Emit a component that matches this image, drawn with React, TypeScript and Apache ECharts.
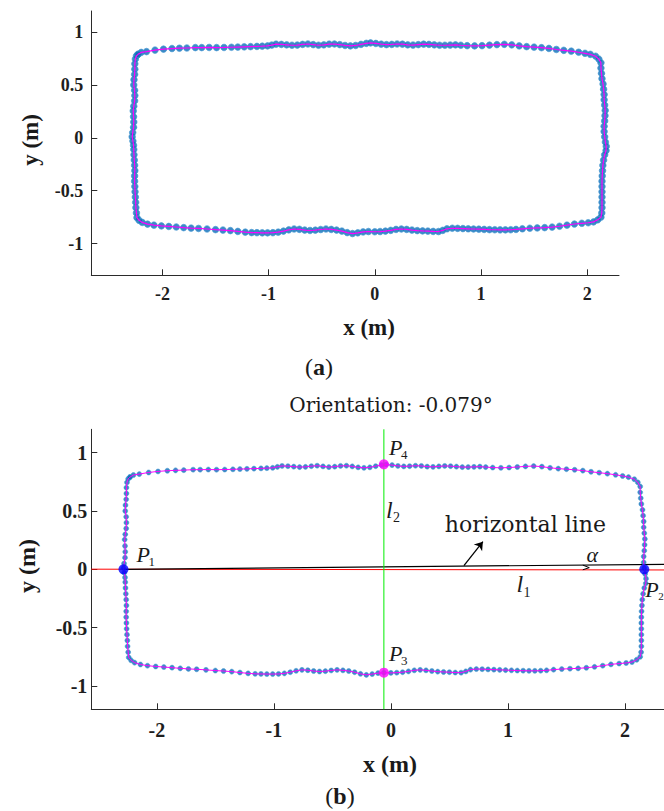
import React, { useEffect, useRef } from "react";
import * as echarts from "echarts";

// ---- trajectory (m), clockwise from the top-left corner ----
const topEdge: number[][] = [
  [-2.23, 0.79], [-2.2, 0.808], [-2.15, 0.816], [-2.07, 0.83], [-1.99, 0.839], [-1.91, 0.845],
  [-1.84, 0.848], [-1.77, 0.85], [-1.69, 0.854], [-1.63, 0.854], [-1.56, 0.855], [-1.49, 0.854],
  [-1.42, 0.855], [-1.35, 0.857], [-1.29, 0.859], [-1.23, 0.861], [-1.17, 0.863], [-1.11, 0.865],
  [-1.06, 0.867], [-1.01, 0.87], [-0.97, 0.878], [-0.93, 0.886], [-0.88, 0.884], [-0.83, 0.88],
  [-0.78, 0.876], [-0.73, 0.878], [-0.68, 0.884], [-0.63, 0.888], [-0.58, 0.882], [-0.53, 0.876],
  [-0.48, 0.88], [-0.43, 0.886], [-0.38, 0.888], [-0.33, 0.882], [-0.28, 0.874], [-0.23, 0.87],
  [-0.18, 0.874], [-0.13, 0.884], [-0.08, 0.894], [-0.04, 0.898], [0.01, 0.893], [0.06, 0.886],
  [0.11, 0.882], [0.16, 0.884], [0.21, 0.888], [0.26, 0.886], [0.31, 0.88], [0.36, 0.878],
  [0.41, 0.882], [0.46, 0.886], [0.51, 0.884], [0.56, 0.88], [0.61, 0.876], [0.66, 0.876],
  [0.71, 0.878], [0.76, 0.88], [0.81, 0.876], [0.87, 0.872], [0.94, 0.87], [1.01, 0.872],
  [1.08, 0.877], [1.15, 0.882], [1.22, 0.885], [1.29, 0.88], [1.36, 0.87], [1.43, 0.863],
  [1.5, 0.858], [1.57, 0.853], [1.64, 0.846], [1.71, 0.836], [1.78, 0.828], [1.85, 0.82],
  [1.92, 0.81], [1.98, 0.8], [2.03, 0.79], [2.08, 0.772], [2.11, 0.745],
];
const rightEdge: number[][] = [
  [2.13, 0.71], [2.13, 0.66], [2.135, 0.61], [2.14, 0.56], [2.15, 0.51], [2.155, 0.46],
  [2.16, 0.41], [2.16, 0.36], [2.165, 0.31], [2.17, 0.26], [2.168, 0.21], [2.165, 0.16],
  [2.16, 0.11], [2.16, 0.06], [2.165, 0.01], [2.172, -0.04], [2.18, -0.08], [2.178, -0.12],
  [2.165, -0.16], [2.155, -0.21], [2.148, -0.26], [2.145, -0.31], [2.142, -0.36], [2.14, -0.41],
  [2.14, -0.46], [2.14, -0.51], [2.14, -0.56], [2.14, -0.61], [2.14, -0.66], [2.138, -0.71],
  [2.13, -0.75],
];
const bottomEdge: number[][] = [
  [2.1, -0.775], [2.06, -0.795], [2.01, -0.803], [1.95, -0.808], [1.88, -0.815], [1.81, -0.826],
  [1.74, -0.836], [1.67, -0.844], [1.6, -0.849], [1.53, -0.852], [1.46, -0.855], [1.39, -0.86],
  [1.33, -0.866], [1.28, -0.869], [1.23, -0.87], [1.18, -0.87], [1.13, -0.869], [1.08, -0.868],
  [1.03, -0.866], [0.98, -0.864], [0.93, -0.862], [0.88, -0.86], [0.83, -0.858], [0.78, -0.856],
  [0.73, -0.855], [0.68, -0.86], [0.64, -0.875], [0.6, -0.886], [0.55, -0.885], [0.5, -0.882],
  [0.45, -0.88], [0.4, -0.877], [0.35, -0.872], [0.3, -0.866], [0.25, -0.862], [0.2, -0.866],
  [0.15, -0.875], [0.1, -0.882], [0.05, -0.886], [0.0, -0.888], [-0.06, -0.886], [-0.11, -0.89],
  [-0.16, -0.898], [-0.21, -0.905], [-0.26, -0.896], [-0.31, -0.882], [-0.36, -0.872], [-0.41, -0.866],
  [-0.46, -0.862], [-0.51, -0.867], [-0.56, -0.873], [-0.61, -0.876], [-0.66, -0.872], [-0.71, -0.865],
  [-0.76, -0.862], [-0.81, -0.87], [-0.86, -0.882], [-0.91, -0.892], [-0.96, -0.897], [-1.01, -0.898],
  [-1.06, -0.898], [-1.11, -0.897], [-1.16, -0.896], [-1.22, -0.892], [-1.29, -0.885], [-1.36, -0.877],
  [-1.43, -0.872], [-1.5, -0.868], [-1.58, -0.862], [-1.66, -0.857], [-1.73, -0.854], [-1.8, -0.849],
  [-1.87, -0.843], [-1.94, -0.838], [-2.01, -0.833], [-2.08, -0.826], [-2.14, -0.816], [-2.19, -0.8],
  [-2.22, -0.78],
];
const leftEdge: number[][] = [
  [-2.24, -0.755], [-2.245, -0.71], [-2.25, -0.66], [-2.252, -0.61], [-2.255, -0.56], [-2.258, -0.51],
  [-2.26, -0.46], [-2.262, -0.41], [-2.262, -0.36], [-2.26, -0.31], [-2.262, -0.26], [-2.265, -0.21],
  [-2.268, -0.16], [-2.27, -0.11], [-2.272, -0.07], [-2.278, -0.03], [-2.285, 0.01], [-2.28, 0.05],
  [-2.272, 0.1], [-2.27, 0.15], [-2.272, 0.2], [-2.275, 0.255], [-2.27, 0.3], [-2.262, 0.35],
  [-2.26, 0.4], [-2.262, 0.45], [-2.27, 0.5], [-2.268, 0.55], [-2.262, 0.6], [-2.26, 0.65],
  [-2.26, 0.7], [-2.255, 0.745], [-2.245, 0.775],
];

// ---- ticks ----
const xTicks = [-2, -1, 0, 1, 2];
const yTicks = [-1, -0.5, 0, 0.5, 1];

// ---- panel (b) annotations ----
const orientationDeg = -0.079;
const p1 = [-2.285, 0];
const p2 = [2.165, 0];
const p3 = [-0.06, -0.886];
const p4 = [-0.06, 0.9];
const l2Line = [[-0.06, -1.2], [-0.06, 1.2]];
const l1Line = [[-2.56, 0.001], [2.56, -0.006]];
const horizontalLine = [[-2.285, 0], [2.56, 0.045]];
const arrowPts = [[0.624, 0.032], [0.786, 0.237]];
const alphaMark = [[1.64, 0.036], [1.695, 0.014], [1.64, -0.004]];
const l2LabelAt = [-0.06, 0.51];
const l1LabelAt = [1.074, -0.13];
const alphaLabelAt = [1.672, 0.13];
const hLineLabelAt = [0.46, 0.383];

const trajectory = [...topEdge, ...rightEdge, ...bottomEdge, ...leftEdge, topEdge[0]];

const SERIF = "'Liberation Serif', 'Times New Roman', serif";
const DSERIF = "'DejaVu Serif', serif";
const AX = "#2b2b2b";

function axisX(grid: number, min: number, max: number, fs: number, margin: number) {
  return {
    gridIndex: grid, type: "value", min, max,
    axisLine: { show: true, onZero: false, lineStyle: { color: AX, width: 1 } },
    axisTick: { show: true, inside: true, length: 6, customValues: xTicks, lineStyle: { color: AX } },
    axisLabel: { customValues: xTicks, margin, fontFamily: SERIF, fontWeight: "bold", fontSize: fs, color: "#1e1e1e" },
    splitLine: { show: false },
  };
}
function axisY(grid: number, min: number, max: number, fs: number, margin: number) {
  return {
    gridIndex: grid, type: "value", min, max,
    axisLine: { show: true, onZero: false, lineStyle: { color: AX, width: 1 } },
    axisTick: { show: true, inside: true, length: 6, customValues: yTicks, lineStyle: { color: AX } },
    axisLabel: { customValues: yTicks, margin, fontFamily: SERIF, fontWeight: "bold", fontSize: fs, color: "#1e1e1e" },
    splitLine: { show: false },
  };
}

export default function App() {
  const ref = useRef<HTMLDivElement>(null);
  useEffect(() => {
    const chart = echarts.init(ref.current!, null, { renderer: "svg" });
    const dotColor = "#0b6db8";
    chart.setOption({
      animation: false,
      grid: [
        { left: 91.3, top: 11, width: 527.7, height: 264.3, outerBoundsMode: "none" },
        { left: 91.3, top: 429.3, width: 599.2, height: 280, outerBoundsMode: "none" },
      ],
      xAxis: [axisX(0, -2.67, 2.3, 18, 10), axisX(1, -2.56, 2.56, 20, 11)],
      yAxis: [axisY(0, -1.3, 1.2, 18, 8), axisY(1, -1.2, 1.2, 20, 4)],
      series: [
        {
          type: "scatter", xAxisIndex: 0, yAxisIndex: 0, data: trajectory, symbolSize: 6.6, z: 2,
          itemStyle: { color: dotColor, borderColor: "#3f95d2", borderWidth: 0.8 }, silent: true,
        },
        {
          type: "line", xAxisIndex: 0, yAxisIndex: 0, data: trajectory, showSymbol: false, z: 3,
          lineStyle: { color: "#ff00ff", width: 1.2 }, silent: true,
        },
        {
          type: "line", xAxisIndex: 1, yAxisIndex: 1, data: l1Line, showSymbol: false, z: 1,
          lineStyle: { color: "#ff0000", width: 1 }, silent: true,
        },
        {
          type: "line", xAxisIndex: 1, yAxisIndex: 1, data: horizontalLine, showSymbol: false, z: 1,
          lineStyle: { color: "#000000", width: 1.2 }, silent: true,
          markLine: {
            silent: true, symbol: ["none", "arrow"], symbolSize: 8,
            lineStyle: { color: "#000", width: 1.3, type: "solid" }, label: { show: false },
            data: [[{ coord: arrowPts[0] }, { coord: arrowPts[1] }]],
          },
        },
        {
          type: "line", xAxisIndex: 1, yAxisIndex: 1, data: alphaMark, showSymbol: false, z: 1,
          lineStyle: { color: "#000000", width: 1 }, silent: true,
        },
        {
          type: "scatter", xAxisIndex: 1, yAxisIndex: 1, data: trajectory, symbolSize: 5, z: 2,
          itemStyle: { color: dotColor, borderColor: "#3f95d2", borderWidth: 0.6 }, silent: true,
        },
        {
          type: "line", xAxisIndex: 1, yAxisIndex: 1, data: trajectory, showSymbol: false, z: 3,
          lineStyle: { color: "#ff00ff", width: 1 }, silent: true,
        },
        {
          type: "line", xAxisIndex: 1, yAxisIndex: 1, data: l2Line, showSymbol: false, z: 4,
          lineStyle: { color: "#00ee00", width: 1 }, silent: true,
        },
        {
          type: "scatter", xAxisIndex: 1, yAxisIndex: 1, data: [p1, p2], symbolSize: 10, z: 5,
          itemStyle: { color: "#0000ff" }, silent: true,
        },
        {
          type: "scatter", xAxisIndex: 1, yAxisIndex: 1, data: [p3, p4], symbolSize: 10, z: 5,
          itemStyle: { color: "#ff00ff" }, silent: true,
        },
      ],
    });

    const px = (p: number[]) => chart.convertToPixel({ gridIndex: 1 }, p) as number[];
    const txt = (x: number, y: number, text: string, fontSize: number, extra: any = {}, rotation = 0) => ({
      type: "text", x, y, rotation, silent: true, z: 100,
      style: { text, fontSize, fontFamily: SERIF, fill: "#1a1a1a", align: "left", verticalAlign: "middle", ...extra },
    });
    const sub = (base: number[], dx: number, dy: number, main: string, s: string, sdx = 12, sfs = 13) => [
      txt(base[0] + dx, base[1] + dy, main, 22, { fontStyle: "italic" }),
      txt(base[0] + dx + sdx, base[1] + dy + 7, s, sfs),
    ];
    const P1 = px(p1), P2 = px(p2), P3 = px(p3), P4 = px(p4);
    const L2 = px(l2LabelAt), L1 = px(l1LabelAt), AL = px(alphaLabelAt), HL = px(hLineLabelAt);
    const bold = { fontWeight: "bold", align: "center" };
    const capRich = { b: { fontWeight: "bold", fontSize: 24, fontFamily: SERIF } };

    chart.setOption({
      graphic: [
        // panel (a)
        txt(30, 140, "y (m)", 23, bold, Math.PI / 2),
        txt(369, 327, "x (m)", 23, bold),
        txt(319, 367, "({b|a})", 24, { align: "center", rich: capRich }),
        // panel (b)
        txt(391, 405, `Orientation: ${orientationDeg}\u00b0`, 20, { align: "center", fontFamily: DSERIF }),
        txt(27, 566, "y (m)", 24, bold, Math.PI / 2),
        txt(390, 764, "x (m)", 24, bold),
        txt(340, 796, "({b|b})", 24, { align: "center", rich: capRich }),
        ...sub(P1, 13, -15, "P", "1"),
        ...sub(P2, 1, 20, "P", "2", 13, 11),
        ...sub(P3, 5, -19, "P", "3"),
        ...sub(P4, 5, -17, "P", "4"),
        txt(L2[0] + 2, L2[1], "l", 24, { fontStyle: "italic" }),
        txt(L2[0] + 9, L2[1] + 8, "2", 14),
        txt(L1[0], L1[1], "l", 24, { fontStyle: "italic" }),
        txt(L1[0] + 7, L1[1] + 8, "1", 14),
        txt(AL[0], AL[1], "\u03b1", 22, { fontStyle: "italic" }),
        txt(HL[0], HL[1], "horizontal line", 22, { fontFamily: DSERIF }),
      ],
    });
    return () => chart.dispose();
  }, []);
  return (
    <div style={{ position: "absolute", left: 0, top: 0, width: 664, height: 811, overflow: "hidden", background: "#fff" }}>
      <div ref={ref} style={{ width: 700, height: 811 }} />
    </div>
  );
}
